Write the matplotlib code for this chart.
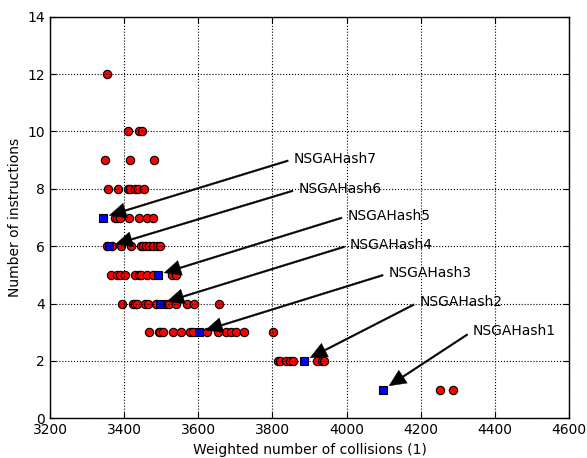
import matplotlib
matplotlib.use("Agg")
import matplotlib.pyplot as plt

# population (red) per number of instructions
pop_x = [
    3353,
    3410, 3439, 3448,
    3349, 3416, 3481,
    3356, 3384, 3410, 3417, 3430, 3437, 3454,
    3375, 3380, 3389, 3414, 3441, 3462, 3479,
    3353, 3366, 3391, 3418, 3445, 3452, 3460, 3468, 3477, 3488, 3497,
    3365, 3382, 3388, 3401, 3430, 3439, 3446, 3461, 3479, 3530, 3539,
    3395, 3425, 3429, 3436, 3456, 3465, 3485, 3513, 3522, 3540, 3569, 3589, 3656,
    3467, 3494, 3498, 3506, 3531, 3554, 3578, 3587, 3623, 3654, 3674, 3688, 3702, 3723, 3802,
    3816, 3820, 3837, 3847, 3855, 3921, 3933, 3939,
    4252, 4288,
]
pop_y = ([12] + [10] * 3 + [9] * 3 + [8] * 7 + [7] * 7 + [6] * 11 + [5] * 11
         + [4] * 13 + [3] * 15 + [2] * 8 + [1] * 2)

# selected solutions (blue)
names = ["NSGAHash1", "NSGAHash2", "NSGAHash3", "NSGAHash4",
         "NSGAHash5", "NSGAHash6", "NSGAHash7"]
sel_x = [4099, 3885, 3602, 3498, 3490, 3359, 3342]
sel_y = [1, 2, 3, 4, 5, 6, 7]

# where the labels sit (left edge, vertical centre)
label_x = [4340, 4196, 4113, 4009, 4002, 3870, 3857]
label_y = [3.04, 4.06, 5.05, 6.04, 7.05, 7.99, 9.04]

fig = plt.figure(figsize=(5.87, 4.58), dpi=100)
ax = fig.add_axes([0.0852, 0.0867, 0.8841, 0.8768])

ax.plot(pop_x, pop_y, 'o', color='red', markeredgecolor='black',
        markersize=6, markeredgewidth=0.8, zorder=2)
ax.plot(sel_x, sel_y, 's', color='blue', markeredgecolor='black',
        markersize=6, markeredgewidth=0.8, zorder=2.1)

for name, x, y, tx, ty in zip(names, sel_x, sel_y, label_x, label_y):
    ax.annotate(name, xy=(x, y), xytext=(tx, ty), fontsize=10,
                ha='left', va='center',
                arrowprops=dict(arrowstyle='simple,head_length=1.2,head_width=1.1,tail_width=0.12',
                                fc='black', ec='black', lw=0.3,
                                relpos=(0, 0.5), shrinkA=2, shrinkB=5))

ax.set_xlim(3200, 4600)
ax.set_ylim(0, 14)
ax.set_xticks(range(3200, 4601, 200))
ax.set_yticks(range(0, 15, 2))
ax.set_xlabel('Weighted number of collisions (1)', fontsize=10)
ax.set_ylabel('Number of instructions', fontsize=10)
ax.set_axisbelow(False)
ax.grid(True, linestyle=':', color='black', linewidth=0.8)
ax.tick_params(direction='in', top=True, right=True, length=4, labelsize=10)
for s in ax.spines.values():
    s.set_linewidth(1)

fig.savefig('out.png', dpi=100, facecolor='white')
